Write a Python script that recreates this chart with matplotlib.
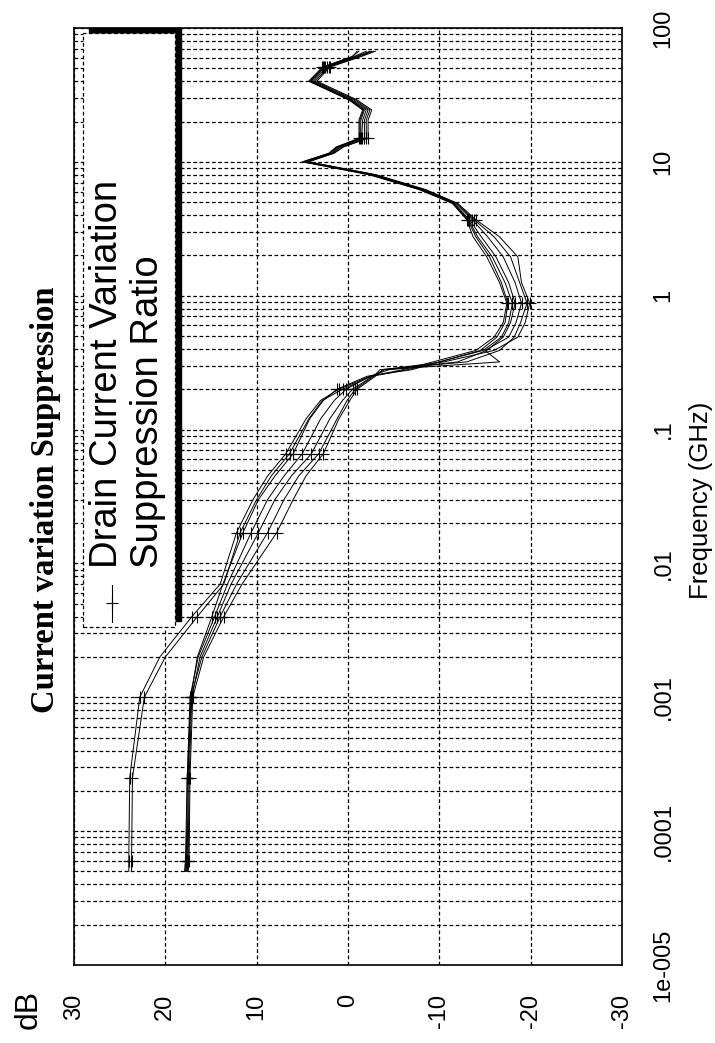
import matplotlib
matplotlib.use("Agg")
import matplotlib.pyplot as plt
from matplotlib.patches import Rectangle
from matplotlib.lines import Line2D

# Frequency points (GHz) shared by all traces
freq = [5e-5, 6e-5, 2.5e-4, 1e-3, 2e-3, 4e-3, 7e-3, 0.017, 0.03, 0.045,
        0.066, 0.12, 0.165, 0.2, 0.25, 0.28, 0.32, 0.39, 0.49, 0.63,
        0.88, 1.25, 1.95, 2.75, 3.7, 4.9, 6.2, 8.0, 10.0, 11.6,
        12.9, 15, 20.5, 24.4, 29, 40, 51, 61, 67]

# Suppression ratio traces (dB)
a1 = [24.0, 24.0, 23.9, 22.8, 20.6, 17.1, 14.0, 12.2, 10.4, 8.8,
      6.8, 4.6, 3.0, 1.0, -2.4, -6.0, -9.3, -14.0, -16.0, -17.0,
      -17.4, -16.6, -15.2, -13.7, -13.0, -11.4, -7.8, -2.3, 5.0, 2.1,
      1.3, -1.2, -1.2, -1.6, -0.1, 4.3, 2.8, -0.4, -1.2]
a2 = [23.7, 23.7, 23.6, 22.3, 20.0, 16.5, 13.6, 11.8, 10.0, 8.4,
      6.4, 4.3, 2.8, 0.6, -2.6, -6.5, -10.0, -14.8, -16.8, -17.6,
      -18.0, -17.2, -15.8, -14.2, -13.2, -11.6, -8.0, -2.6, 4.8, 2.0,
      1.1, -1.4, -1.4, -1.8, -0.3, 4.1, 2.6, -0.6, -2.0]
b1 = [17.7, 17.6, 17.5, 17.2, 16.5, 14.9, 13.7, 11.5, 9.8, 8.0,
      6.0, 4.2, 2.7, 1.2, -2.1, -7.0, -10.0, -14.5, -16.3, -17.2,
      -17.5, -16.8, -15.5, -14.0, -13.1, -11.5, -7.9, -2.5, 4.9, 2.0,
      1.2, -1.3, -1.3, -1.7, -0.2, 4.2, 2.7, -0.5, -1.0]
b2 = [17.8, 17.7, 17.6, 17.3, 16.4, 14.6, 13.2, 10.6, 8.8, 7.0,
      5.0, 3.0, 1.5, 0.2, -2.4, -4.5, -12.0, -15.2, -17.0, -17.8,
      -18.3, -17.6, -16.2, -14.6, -13.3, -11.6, -8.1, -2.7, 4.7, 1.8,
      1.0, -1.5, -1.6, -2.0, -0.4, 4.0, 2.5, -0.8, -2.4]
b3 = [17.6, 17.5, 17.4, 17.1, 16.2, 14.3, 12.8, 9.8, 8.0, 6.2,
      4.0, 2.0, 0.6, -0.5, -2.7, -4.0, -16.6, -15.0, -17.6, -18.4,
      -19.0, -18.3, -17.0, -15.3, -13.6, -11.8, -8.2, -2.8, 4.6, 1.7,
      0.8, -1.8, -1.8, -2.2, -0.6, 3.8, 2.3, -1.0, -2.6]
b4 = [17.9, 17.8, 17.6, 17.2, 16.0, 14.0, 12.2, 8.8, 7.0, 5.4,
      3.2, 1.2, 0.1, -0.8, -2.8, -3.5, -13.0, -16.6, -18.2, -18.9,
      -19.6, -18.8, -17.8, -16.0, -13.8, -11.9, -8.4, -3.0, 4.4, 1.6,
      0.6, -2.0, -2.0, -2.4, -0.8, 3.6, 2.1, -1.2, -2.8]
b5 = [17.5, 17.4, 17.3, 17.0, 15.8, 13.6, 11.6, 7.8, 6.0, 4.6,
      2.7, 1.0, -0.2, -1.0, -3.0, -3.8, -10.5, -16.0, -18.6, -19.4,
      -19.9, -19.0, -18.6, -16.6, -14.0, -12.0, -8.5, -3.1, 4.3, 1.5,
      0.5, -2.2, -2.2, -2.6, -1.0, 3.4, 2.0, -1.4, -3.0]
traces = [a1, a2, b1, b2, b3, b4, b5]

db_ticks = [30, 20, 10, 0, -10, -20, -30]
db_labels = ["30", "20", "10", "0", "-10", "-20", "-30"]
f_ticks = [1e-5, 1e-4, 1e-3, 1e-2, 1e-1, 1, 10, 100]
f_labels = ["1e-005", ".0001", ".001", ".01", ".1", "1", "10", "100"]
marks = [1, 2, 3, 5, 7, 10, 13, 20, 24, 31, 36]

sans = "Liberation Sans"

fig = plt.figure(figsize=(7.15, 10.43), dpi=100)
ax = fig.add_axes([0.1035, 0.0748, 0.7664, 0.8984])

# chart is drawn turned on its side: dB runs across, frequency runs up
for tr in traces:
    ax.plot(tr, freq, color="black", lw=0.7, marker="+", ms=8, mew=0.8,
            markevery=marks)

ax.set_yscale("log")
ax.set_ylim(1e-5, 100)
ax.set_xlim(30, -30)
ax.set_xticks(db_ticks)
ax.set_xticklabels(db_labels, rotation=90, fontsize=17, family=sans)
ax.set_yticks(f_ticks)
ax.set_yticklabels(f_labels, rotation=90, fontsize=17, family=sans, va="center")
ax.yaxis.tick_right()
ax.tick_params(axis="x", length=0, pad=21)
ax.tick_params(axis="y", which="both", length=0, pad=22)

ax.grid(True, which="major", color="black", linestyle=(0, (3, 2)), lw=0.9)
ax.grid(True, which="minor", axis="y", color="black", linestyle=(0, (3, 2)), lw=0.9)
for s in ax.spines.values():
    s.set_linewidth(1.2)

# legend box, drawn by hand so it can be turned like the rest
shadow = Rectangle((0.0274, 0.367), 0.1679, 0.6333, transform=ax.transAxes,
                   facecolor="black", edgecolor="black", zorder=5, clip_on=False)
frame = Rectangle((0.0164, 0.361), 0.1679, 0.6333, transform=ax.transAxes,
                  facecolor="white", edgecolor="black", lw=0.9,
                  linestyle=(0, (3, 2)), zorder=6, clip_on=False)
ax.add_patch(shadow)
ax.add_patch(frame)
ax.add_line(Line2D([0.069, 0.069], [0.366, 0.406], transform=ax.transAxes,
                   color="black", lw=0.8, zorder=7))
ax.add_line(Line2D([0.069], [0.386], transform=ax.transAxes, color="black",
                   marker="+", ms=9, mew=0.8, zorder=7))
ax.text(0.060, 0.424, "Drain Current Variation", transform=ax.transAxes,
        rotation=90, ha="center", va="bottom", fontsize=27.5, family=sans, zorder=8)
ax.text(0.135, 0.424, "Suppression Ratio", transform=ax.transAxes,
        rotation=90, ha="center", va="bottom", fontsize=27.5, family=sans, zorder=8)

fig.text(0.064, 0.5206, "Current variation Suppression", rotation=90,
         ha="center", va="center", fontsize=23.5, fontweight="bold",
         family="Liberation Serif")
fig.text(0.981, 0.5206, "Frequency (GHz)", rotation=90, ha="center",
         va="center", fontsize=18.5, family=sans)
fig.text(0.0406, 0.0326, "dB", rotation=90, ha="center", va="center",
         fontsize=23, family=sans)

fig.savefig("out.png", dpi=100)
